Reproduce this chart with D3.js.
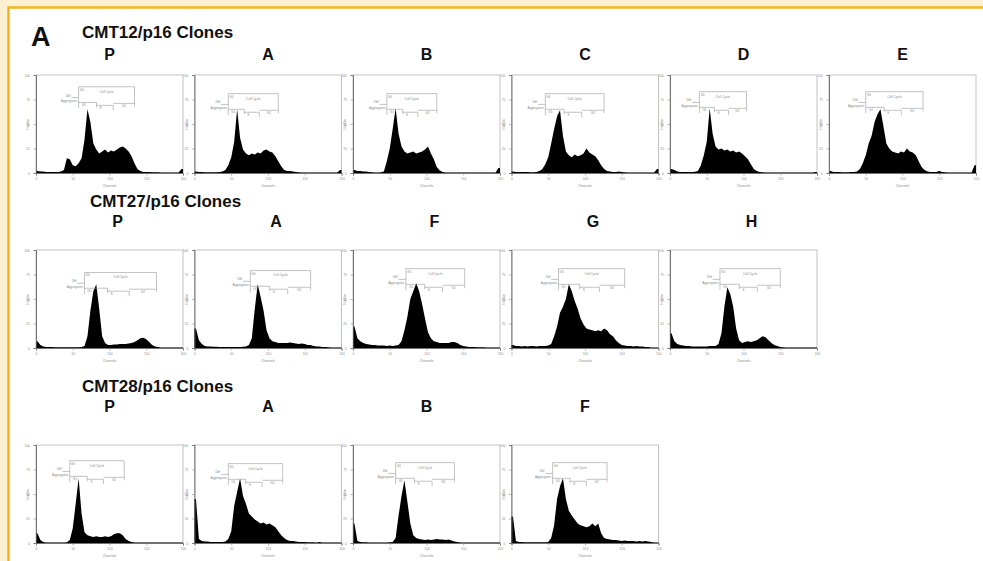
<!DOCTYPE html>
<html lang="en">
<head>
<meta charset="UTF-8">
<title>p16 clones - DNA content histograms</title>
<script src="https://d3js.org/d3.v7.min.js"></script>
<style>
  body { margin: 0; background: #fdf0d0; }
  svg { display: block; font-family: "Liberation Sans", Arial, sans-serif; }
</style>
</head>
<body>
<svg id="fig" width="983" height="561"></svg>
<script>
// ---------- data ----------
const rowTitles = ["CMT12/p16 Clones", "CMT27/p16 Clones", "CMT28/p16 Clones"];
const rowClones = [["P", "A", "B", "C", "D", "E"], ["P", "A", "F", "G", "H"], ["P", "A", "B", "F"]];
const xTicks = [0, 50, 100, 150, 200];
const yTicks = [0, 25, 50, 75, 100];
const binWidth = 4; // channels per bin, 50 bins over 0-200

// % of full scale, one value per bin
const cmt12P = [2, 1.5, 1.5, 1, 1, 1, 1, 1, 1.5, 3,
  15, 14, 8, 7, 10, 15, 34, 65, 52, 30,
  24, 20, 22, 24, 21, 23, 22, 24, 26, 27,
  25, 22, 17, 10, 4, 2, 1, 1, 1, 0.8,
  0.8, 0.8, 0.6, 0.6, 0.6, 0.5, 0.5, 0.5, 0.5, 4];
const cmt12A = [1.5, 1, 1, 0.8, 0.8, 0.8, 0.8, 0.8, 1, 1.5,
  3, 8, 16, 32, 65, 36, 24, 20, 18, 20,
  19, 21, 20, 23, 24, 22, 21, 17, 12, 7,
  3, 2, 2, 1.5, 1, 0.8, 0.6, 0.6, 0.5, 0.5,
  0.5, 0.5, 0.4, 0.4, 0.4, 0.4, 0.4, 0.4, 0.4, 3];
const cmt12B = [3, 2, 2, 1.5, 1.5, 1, 0.8, 0.6, 0.6, 0.8,
  1.5, 12, 25, 45, 66, 40, 27, 22, 20, 21,
  22, 20, 21, 22, 24, 27, 20, 14, 6, 2.5,
  1, 0.6, 0.5, 0.5, 0.5, 0.4, 0.4, 0.4, 0.4, 0.4,
  0.4, 0.4, 0.4, 0.4, 0.4, 0.4, 0.4, 0.4, 0.4, 5];
const cmt12C = [1.5, 1, 1, 1, 1, 1, 0.8, 0.8, 1, 2,
  4, 9, 16, 30, 45, 58, 64, 38, 22, 18,
  16, 19, 17, 18, 20, 25, 21, 19, 17, 13,
  8, 4, 2, 1.5, 1, 1, 1.5, 1, 0.8, 0.6,
  0.5, 0.5, 0.5, 0.5, 0.5, 0.5, 0.5, 0.5, 0.5, 4];
const cmt12D = [4, 3, 1.5, 1, 1, 1, 1, 1, 1.2, 2,
  8, 18, 32, 66, 40, 27, 24, 25, 23, 24,
  22, 23, 21, 22, 20, 17, 14, 9, 4, 2,
  1, 0.8, 0.6, 0.5, 0.5, 0.5, 0.5, 0.5, 0.5, 0.5,
  0.4, 0.4, 0.4, 0.4, 0.4, 0.4, 0.4, 0.4, 0.4, 1];
const cmt12E = [2, 1, 1, 1, 0.8, 0.8, 0.8, 1, 1, 1.5,
  4, 10, 18, 30, 38, 52, 60, 65, 48, 30,
  25, 22, 21, 20, 22, 21, 25, 22, 21, 18,
  12, 6, 3, 1.5, 1, 1, 1, 2, 1, 0.8,
  0.6, 0.6, 0.5, 0.5, 0.5, 0.5, 0.5, 0.5, 0.5, 8];

const cmt27P = [7, 3, 1.5, 1, 1, 1, 0.8, 0.8, 0.8, 0.8,
  0.8, 0.8, 0.8, 0.8, 0.8, 1, 2, 12, 38, 58,
  65, 40, 12, 5, 3, 3, 3.5, 3.5, 4, 4,
  4, 4.5, 5, 6, 8, 10, 10.5, 9, 6, 3,
  1.5, 1, 0.6, 0.5, 0.5, 0.5, 0.5, 0.5, 0.5, 0.5];
const cmt27A = [20, 8, 4, 2, 1.5, 1.5, 1.2, 1.2, 1, 1,
  1, 1, 1, 1, 1, 1, 1.2, 1.5, 3, 10,
  40, 65, 52, 38, 18, 10, 7, 6, 5, 5,
  5, 5, 5.5, 5, 4.5, 4, 4.5, 4, 3, 3,
  2, 1.5, 1.5, 1, 1, 0.8, 0.6, 0.5, 0.5, 0.5];
const cmt27F = [22, 10, 7, 5, 4, 3.5, 3, 3, 2.5, 2.5,
  2.5, 2, 2.5, 2, 2.5, 3, 7, 18, 32, 50,
  58, 66, 58, 45, 30, 16, 10, 7, 6, 5,
  5, 5, 5, 6, 6, 5, 3, 2, 1.5, 1,
  1, 1, 0.8, 0.8, 0.8, 0.6, 0.6, 0.6, 0.6, 0.6];
const cmt27G = [3, 2, 2, 1.5, 2, 1.5, 2, 2, 1.5, 2,
  2, 2, 2.5, 4, 12, 22, 36, 42, 50, 65,
  58, 48, 40, 30, 24, 20, 19, 18, 17, 18,
  17, 20, 18, 14, 12, 8, 5, 3, 2.5, 2,
  2, 1.5, 2, 1.5, 1.5, 1, 1, 0.6, 0.5, 0.5];
const cmt27H = [15, 7, 4, 3, 2.5, 2, 2, 1.5, 1.5, 1.5,
  1.5, 1.5, 1.5, 2, 2, 2, 4, 15, 42, 62,
  55, 42, 20, 8, 5, 6, 7, 6, 7, 8,
  10, 12, 11, 8, 5, 3, 2, 1, 0.8, 0.6,
  0.5, 0.5, 0.5, 0.5, 0.5, 0.5, 0.5, 0.5, 0.5, 0.5];

const cmt28P = [10, 3, 1, 0.6, 0.5, 0.5, 0.5, 0.5, 0.5, 0.6,
  0.8, 3, 15, 40, 66, 30, 11, 8, 7, 6,
  7, 6, 6, 7, 6, 7, 9, 10, 10, 8,
  4, 2, 1, 0.6, 0.5, 0.5, 0.5, 0.5, 0.5, 0.5,
  0.5, 0.5, 0.5, 0.5, 0.5, 0.5, 0.5, 0.5, 0.5, 0.5];
const cmt28A = [45, 4, 2, 1.5, 1.5, 1, 1, 1, 1, 1,
  1.5, 4, 12, 38, 52, 66, 48, 40, 30, 27,
  24, 22, 20, 21, 19, 20, 18, 16, 12, 8,
  5, 3, 2, 2, 1.5, 1, 1, 1, 0.8, 0.8,
  0.8, 0.6, 1, 0.6, 0.5, 0.5, 0.5, 0.5, 0.5, 0.5];
const cmt28B = [20, 2, 1, 0.8, 0.8, 0.6, 0.6, 0.6, 0.6, 0.6,
  0.6, 0.6, 0.8, 1, 5, 28, 48, 64, 42, 20,
  8, 5, 4, 3.5, 3, 3.5, 3, 3.5, 4, 3.5,
  3.5, 3, 3.5, 2.5, 1.5, 1, 0.6, 0.5, 0.5, 0.5,
  0.5, 0.5, 0.5, 0.5, 0.5, 0.5, 0.5, 0.5, 0.5, 0.5];
const cmt28F = [27, 2, 1, 1, 0.8, 0.8, 0.8, 0.8, 0.8, 0.8,
  0.8, 0.8, 1, 5, 18, 45, 58, 66, 45, 33,
  28, 24, 20, 18, 17, 16, 17, 20, 17, 20,
  10, 5, 4, 3.5, 3, 3, 2.5, 2, 2.5, 2,
  2, 2, 1.5, 2, 1.5, 2, 1.5, 1, 0.6, 0.5];

// ModFit gate brackets: [low channel, high channel, top (% scale)]
const gates12 = [[58, 134, 88], [46, 114, 81], [46, 114, 81], [46, 126, 81], [40, 104, 83], [50, 128, 83]];
const gates27 = [[66, 164, 77], [76, 158, 79], [72, 152, 81], [64, 154, 81], [68, 150, 81]];
const gates28 = [[46, 120, 84], [46, 120, 81], [58, 138, 82], [56, 130, 82]];

const rowHists = [[cmt12P, cmt12A, cmt12B, cmt12C, cmt12D, cmt12E],
                  [cmt27P, cmt27A, cmt27F, cmt27G, cmt27H],
                  [cmt28P, cmt28A, cmt28B, cmt28F]];
const rowGates = [gates12, gates27, gates28];

// ---------- layout ----------
const W = 983, H = 561;
const frameW = 147, frameH = 98;
const colX = [36, 194.5, 353, 511.5, 670, 829];
const rowY = [75, 250, 445];
const titleY = [38, 207, 392];
const letterY = [60, 227, 412];
const rowShift = [0, 8, 0];

const svg = d3.select("#fig");

// page border
svg.append("rect").attr("width", W).attr("height", H).attr("fill", "#fdf0d0");
svg.append("rect")
  .attr("x", 8.5).attr("y", 7.5)
  .attr("width", W + 20).attr("height", H + 20)
  .attr("fill", "#ffffff")
  .attr("stroke", "#f2b61c")
  .attr("stroke-width", 2.5);

svg.append("text")
  .attr("x", 31).attr("y", 46)
  .attr("font-size", 27).attr("font-weight", "bold")
  .attr("fill", "#111")
  .text("A");

const x = d3.scaleLinear().domain([0, 200]).range([0, frameW]);
const y = d3.scaleLinear().domain([0, 100]).range([frameH, 0]);

const area = d3.area()
  .x(d => x(d[0]))
  .y0(y(0))
  .y1(d => y(d[1]));

const tiny = "#8a8a8a";

function tinyText(g, px, py, str, anchor) {
  g.append("text")
    .attr("x", px).attr("y", py)
    .attr("font-size", 3.2)
    .attr("text-anchor", anchor || "start")
    .attr("fill", tiny)
    .text(str);
}

function drawGate(g, gate) {
  const [lo, hi, top] = gate;
  const x0 = x(lo), x1 = x(hi), yt = y(top);
  const gl = g.append("g").attr("fill", "none").attr("stroke", "#9a9a9a").attr("stroke-width", 0.6);
  // main bracket
  gl.append("path").attr("d", `M${x0},${y(top - 22)}V${yt}H${x1}V${y(top - 20)}`);
  // doublets pointer
  gl.append("path").attr("d", `M${x(lo - 10)},${y(top - 11)}H${x0}`);
  // sub gates, stepping down
  const m1 = x(lo + (hi - lo) * 0.32), m2 = x(lo + (hi - lo) * 0.62);
  gl.append("path").attr("d", `M${x0},${y(top - 16)}H${m1}V${y(top - 21)}`);
  gl.append("path").attr("d", `M${m1},${y(top - 19)}H${m2}V${y(top - 24)}`);
  gl.append("path").attr("d", `M${m2},${y(top - 17)}H${x1}`);
  tinyText(g, (x0 + x1) / 2, y(top - 6), "Cell Cycle", "middle");
  tinyText(g, x0 + 1, y(top - 4), "G0");
  tinyText(g, x(lo - 11), y(top - 10), "Dbl", "end");
  tinyText(g, x(lo - 2), y(top - 16), "Aggregates", "end");
  tinyText(g, x0 + 3, y(top - 20), "G1");
  tinyText(g, m1 + 3, y(top - 23), "S");
  tinyText(g, (m2 + x1) / 2, y(top - 21), "G2", "middle");
}

rowTitles.forEach((title, r) => {
  svg.append("text")
    .attr("x", 82 + rowShift[r]).attr("y", titleY[r])
    .attr("font-size", 17).attr("font-weight", "bold")
    .attr("fill", "#111")
    .text(title);

  rowClones[r].forEach((clone, c) => {
    const gx = colX[c], gy = rowY[r];
    svg.append("text")
      .attr("x", gx + frameW / 2 + rowShift[r]).attr("y", letterY[r])
      .attr("text-anchor", "middle")
      .attr("font-size", 16).attr("font-weight", "bold")
      .attr("fill", "#111")
      .text(clone);

    const g = svg.append("g").attr("transform", `translate(${gx},${gy})`);

    // frame
    g.append("rect")
      .attr("width", frameW).attr("height", frameH)
      .attr("fill", "#fff").attr("stroke", "#b4b4b4").attr("stroke-width", 0.8);

    // histogram
    const vals = rowHists[r][c];
    const pts = [[0, vals[0]]]
      .concat(vals.map((v, i) => [i * binWidth + binWidth / 2, v]))
      .concat([[200, vals[vals.length - 1]]]);
    g.append("path").datum(pts).attr("d", area).attr("fill", "#000");

    drawGate(g, rowGates[r][c]);

    // axes
    const ax = g.append("g").attr("transform", `translate(0,${frameH})`)
      .call(d3.axisBottom(x).tickValues(xTicks).tickSize(2.5).tickFormat(d3.format("d")));
    const ay = g.append("g")
      .call(d3.axisLeft(y).tickValues(yTicks).tickSize(2.5).tickFormat(d3.format("d")));
    [ax, ay].forEach(a => {
      a.select(".domain").attr("stroke", "#555").attr("stroke-width", 0.8);
      a.selectAll(".tick line").attr("stroke", "#888").attr("stroke-width", 0.6);
      a.selectAll(".tick text").attr("font-size", 3.2).attr("fill", tiny).attr("font-family", "Liberation Sans, Arial, sans-serif");
    });
    ax.selectAll(".tick text").attr("dy", "0.5em");
    ay.selectAll(".tick text").attr("dx", "-0.2em");

    g.append("text")
      .attr("transform", `translate(-7,${frameH / 2}) rotate(-90)`)
      .attr("text-anchor", "middle")
      .attr("font-size", 3.2).attr("fill", tiny)
      .text("Number");
    g.append("text")
      .attr("x", frameW / 2).attr("y", frameH + 14)
      .attr("text-anchor", "middle")
      .attr("font-size", 3.2).attr("fill", tiny)
      .text("Channels");
  });
});
</script>
</body>
</html>
